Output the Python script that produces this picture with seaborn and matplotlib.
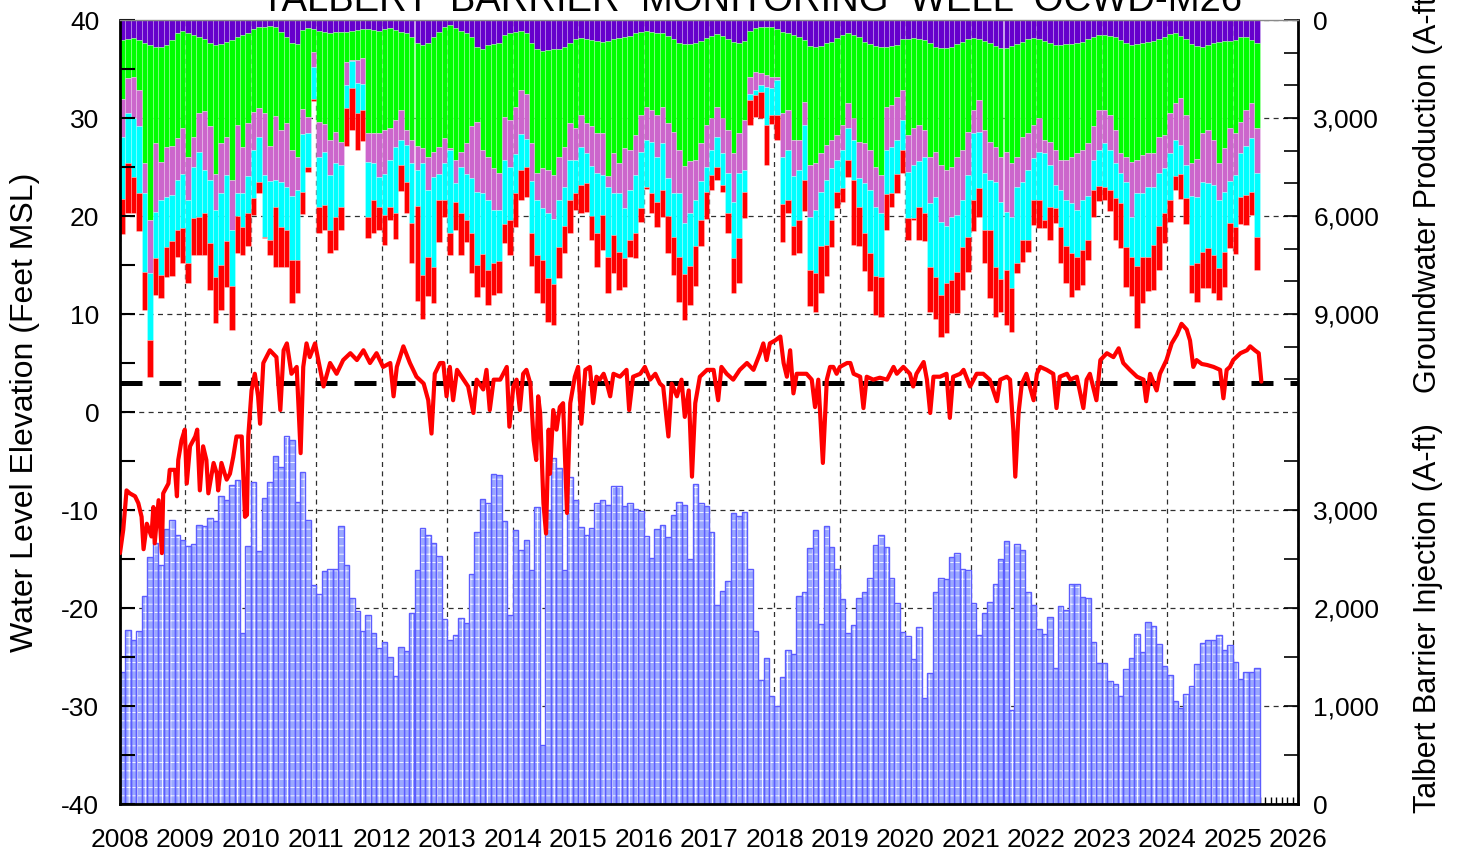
import numpy as np
import pandas as pd
import matplotlib
matplotlib.use("Agg")
import matplotlib.pyplot as plt
from matplotlib.ticker import FixedLocator, MultipleLocator, FuncFormatter
import seaborn as sns

sns.set_theme(style="white")
plt.rcParams['font.family'] = ['Liberation Sans', 'DejaVu Sans']
plt.rcParams['hatch.linewidth'] = 0.6
plt.rcParams['axes.unicode_minus'] = False
plt.rcParams['text.color'] = 'black'
plt.rcParams['xtick.color'] = 'black'
plt.rcParams['ytick.color'] = 'black'
plt.rcParams['xtick.labelcolor'] = 'black'
plt.rcParams['ytick.labelcolor'] = 'black'

# ---------------- data ----------------
months = pd.date_range("2008-01-01", periods=209, freq="MS")

# Groundwater production by zone (A-ft / month), stacked from top of chart
prod_purple = [610,590,560,610,710,770,820,820,770,610,410,330,
               410,460,510,590,690,770,730,660,610,530,460,410,
               290,220,200,180,220,360,510,710,730,310,260,290,
               330,360,390,380,370,360,330,310,290,290,310,330,
               290,260,310,360,390,510,710,770,690,510,360,200,
               150,260,330,410,510,820,900,770,730,690,460,410,
               360,330,410,710,900,940,920,900,880,820,690,590,
               560,590,610,630,660,630,590,560,530,490,410,360,
               330,360,390,410,490,590,690,740,730,690,630,560,
               490,430,490,590,670,690,630,330,260,200,200,220,
               290,360,410,450,530,610,800,840,800,710,660,560,
               460,410,460,530,660,730,800,820,820,800,770,590,
               570,560,570,610,710,820,870,870,840,730,660,590,
               560,590,630,690,800,870,850,800,730,660,590,560,
               590,630,690,770,770,730,730,710,660,590,510,470,
               460,490,530,610,710,770,730,690,660,630,590,510,
               430,410,490,590,730,800,820,770,690,660,650,630,
               610,510,530,610,690]
prod_green = [1820,1190,1170,1530,3670,5360,2960,3520,3110,3260,3210,2990,
              3770,3110,2350,2210,2570,3930,3040,2910,4280,2680,3420,2750,
              2520,2480,2650,3690,2730,3010,2650,3260,3450,2400,2700,680,
              2780,2810,3280,3040,3360,920,900,920,860,3180,3160,3140,
              3080,3060,2750,2400,2980,3160,3160,3160,3490,3520,3520,3420,
              3770,4030,3700,3370,2750,2300,3080,3420,3800,4000,2500,2650,
              2300,1820,1840,3060,3790,3600,3670,3850,3300,3060,2470,2720,
              2350,2570,2650,2840,2810,4160,3490,3830,3400,3490,3110,2550,
              2330,2400,2520,2240,2670,2830,3280,3740,3600,3590,3140,2650,
              2520,2220,2520,2770,3410,2770,2430,1410,1330,1430,1480,1510,
              1450,2500,2350,3220,3140,1890,3640,3550,3280,3110,3010,2960,
              2750,2140,2550,3190,3110,3240,3690,3930,1840,1810,1580,1550,
              2950,2750,2640,2750,3470,3210,3570,3720,3650,3450,3320,2830,
              2190,1860,2730,3030,3080,3320,3180,3590,3450,2910,2880,2650,
              2420,3040,3030,3210,3520,3550,3450,3370,3320,3180,2750,2280,
              2300,2420,2840,3470,3470,3570,3550,3440,3420,3450,2980,3010,
              2430,2140,1910,2320,3650,3440,2650,2600,2980,3720,3270,2680,
              2860,2600,2220,1940,2620]
prod_orchid = [1160,1070,1280,1120,920,1630,2090,1170,1530,1480,1280,1380,
               1330,920,1170,1790,1630,1120,1530,1170,1530,2090,1430,1630,
               1170,870,1890,1070,1940,1580,1940,1430,1020,770,510,460,
               1070,870,1070,970,710,710,20,710,800,870,920,1330,
               1330,970,820,920,460,710,710,460,1020,770,820,770,
               50,710,460,920,1580,2140,1330,1330,1280,1120,1330,1430,
               1430,1330,1380,1170,820,1220,1330,1330,1330,1220,1120,970,
               970,920,1220,1220,1280,310,1220,920,1840,1220,1220,1120,
               1020,970,1280,1120,1680,1890,1330,1730,1580,1220,1170,1280,
               970,920,1070,1330,1480,1220,1530,510,560,360,360,360,
               100,1330,1220,1120,920,710,1580,1430,1170,1070,870,770,
               770,770,660,1120,1220,1220,1220,1170,1330,1280,1330,920,
               1120,1120,1120,820,1430,1380,1730,1730,1530,1790,1530,1330,
               710,970,1330,1170,1070,1380,1840,1630,920,1380,1120,1020,
               1020,410,710,1070,920,1220,1430,1730,1530,1630,1020,1220,
               1020,1070,1020,610,770,1680,1020,1170,1020,1020,1120,1020,
               1220,1120,1430,1530,1020,1170,1480,1630,1380,1120,1330,1630,
               1280,970,1120,1070,1380]
prod_cyan = [1890,1530,1790,2040,2400,2040,1430,2300,1530,1430,1530,1680,
             1940,1580,1990,1330,1940,2040,2190,2040,1730,710,1020,1120,
             1480,1380,1890,1790,820,1380,1330,1940,2140,1790,1020,1000,
             1530,1630,1680,1630,1280,710,820,920,820,1680,1120,920,
             1280,1430,2040,770,1120,1840,1120,3420,2040,2750,820,1120,
             2550,560,1430,1430,1680,2240,1840,2140,1630,1580,1940,1630,
             1220,1120,870,1580,1680,1580,1990,1990,1430,1220,1220,1020,
             1170,920,1530,1840,1220,2140,1280,1790,1530,1530,1790,1730,
             1430,1580,1380,1430,1170,1330,1940,1580,1630,1430,1170,770,
             770,920,970,1220,1730,1990,660,200,150,200,1170,820,
             1070,1430,1530,1530,1530,1680,1630,1940,1680,1990,1580,970,
             1170,970,1220,870,1530,1940,2140,1940,1330,1410,1020,920,
             1430,1630,1380,1730,1940,2450,2240,1730,1940,1730,1430,1890,
             2040,1730,1730,1530,2600,2350,1790,2190,2350,1790,2140,1280,
             1480,2040,1280,710,1120,1430,1530,1430,1530,1330,920,1120,
             1330,1220,1070,920,1990,1220,2240,1940,2140,1790,1630,1380,
             1430,1120,870,1020,2090,2040,2140,1990,2140,2090,1840,1280,
             1580,1330,1480,1630,1940]
prod_red = [1080,1530,1120,1170,1170,1130,1120,710,920,1070,820,1070,
            610,1120,1170,1280,1430,1430,1380,1380,1330,1120,870,1020,
            510,360,50,460,1840,1220,1120,1330,1020,660,150,50,
            820,770,710,1020,710,1170,1310,1120,920,660,1020,710,
            920,410,770,770,970,1220,2910,1330,1220,1120,1280,510,
            660,870,1280,660,1220,970,1020,1070,970,970,610,1070,
            1020,920,920,1020,1170,1330,1330,1280,970,820,1020,510,
            870,870,710,1020,1070,1120,1170,1170,870,510,770,410,
            50,610,770,820,1120,1170,1380,1380,1170,1220,820,820,
            460,410,200,610,1070,1380,820,770,660,820,1220,260,
            770,1170,410,870,1020,970,1120,1170,1430,970,820,510,
            410,510,1990,1220,1170,1170,1170,1220,1120,430,610,710,
            660,50,1020,870,1380,1280,1280,1530,1020,1280,1330,1070,
            970,870,1020,2090,1530,1020,1680,1330,310,660,360,770,
            870,260,1020,460,1120,1120,1330,1020,1070,610,820,460,
            410,660,1280,1380,1220,1220,1890,1430,1070,1380,1330,920,
            660,410,770,770,870,1170,1120,1220,1170,970,1070,770,
            820,820,920,710,1020]

# Talbert Barrier injection (A-ft / month)
injection = [1350,1780,1670,1770,2120,2520,2660,2440,2810,2900,2750,2690,
             2630,2650,2850,2840,2920,2890,3140,3100,3260,3310,1750,2630,
             3290,2580,3120,3290,3550,3440,3760,3710,3080,3390,2900,2230,
             2140,2380,2400,2400,2840,2440,2100,1970,1770,1930,1740,1590,
             1650,1500,1310,1600,1560,1950,2390,2820,2740,2660,2530,1890,
             1670,1720,1900,1850,2350,2780,3110,3070,3370,3360,2890,1930,
             2800,2590,2690,2390,3030,600,3000,3530,3430,2390,3340,3100,
             2830,2740,2820,3070,3100,3050,3250,3250,3040,3070,3010,2990,
             2730,2510,2810,2850,2720,2950,3080,3050,2500,3270,3070,3040,
             2780,2030,2170,2280,2970,2940,2980,2400,1770,1270,1490,1100,
             1000,1300,1570,1530,2120,2160,2610,2800,1840,2840,2620,2400,
             2090,1740,1830,2100,2160,2310,2640,2740,2620,2310,2050,1760,
             1710,1480,1810,1080,1340,2160,2310,2300,2520,2560,2400,2390,
             2050,1720,1950,2060,2250,2500,2680,960,2650,2590,2160,2030,
             1790,1730,1910,1390,2020,1980,2240,2250,2110,2100,1650,1440,
             1440,1260,1220,1100,1380,1490,1730,1550,1860,1820,1630,1410,
             1320,1050,980,1120,1200,1430,1640,1670,1670,1720,1570,1620,
             1450,1280,1350,1350,1390]

# Water level at OCWD-M26 (decimal year, ft MSL)
wl_year = [2008.00,2008.05,2008.10,2008.15,2008.23,2008.28,2008.33,2008.36,2008.41,2008.48,
           2008.51,2008.53,2008.59,2008.64,2008.66,2008.74,2008.76,2008.84,2008.87,2008.89,
           2008.94,2008.99,2009.02,2009.07,2009.15,2009.18,2009.22,2009.27,2009.32,2009.35,
           2009.43,2009.48,2009.50,2009.55,2009.60,2009.63,2009.68,2009.73,2009.78,2009.86,
           2009.91,2009.94,2009.96,2010.01,2010.06,2010.11,2010.14,2010.19,2010.29,2010.39,
           2010.45,2010.50,2010.55,2010.62,2010.70,2010.76,2010.80,2010.85,2010.90,2010.98,
           2011.03,2011.11,2011.21,2011.31,2011.41,2011.52,2011.62,2011.72,2011.82,2011.92,
           2012.02,2012.13,2012.18,2012.23,2012.33,2012.43,2012.53,2012.64,2012.71,2012.76,
           2012.81,2012.89,2012.94,2012.99,2013.04,2013.09,2013.15,2013.25,2013.32,2013.40,
           2013.45,2013.55,2013.60,2013.65,2013.71,2013.81,2013.91,2013.95,2014.01,2014.06,
           2014.11,2014.16,2014.21,2014.27,2014.32,2014.36,2014.39,2014.42,2014.47,2014.51,
           2014.55,2014.57,2014.62,2014.67,2014.72,2014.77,2014.83,2014.88,2014.95,2015.00,
           2015.05,2015.11,2015.18,2015.23,2015.28,2015.33,2015.39,2015.44,2015.49,2015.54,
           2015.64,2015.74,2015.78,2015.84,2015.95,2016.02,2016.10,2016.18,2016.25,2016.30,
           2016.38,2016.43,2016.51,2016.58,2016.63,2016.69,2016.74,2016.79,2016.86,2016.97,
           2017.07,2017.14,2017.19,2017.27,2017.37,2017.47,2017.58,2017.68,2017.78,2017.83,
           2017.88,2017.93,2018.01,2018.09,2018.14,2018.19,2018.24,2018.29,2018.34,2018.42,
           2018.49,2018.57,2018.62,2018.67,2018.74,2018.80,2018.85,2018.90,2018.95,2019.00,
           2019.11,2019.16,2019.21,2019.31,2019.36,2019.41,2019.51,2019.61,2019.72,2019.82,
           2019.87,2019.97,2020.07,2020.12,2020.17,2020.28,2020.33,2020.38,2020.43,2020.53,
           2020.63,2020.68,2020.73,2020.84,2020.89,2020.99,2021.09,2021.19,2021.29,2021.40,
           2021.45,2021.55,2021.60,2021.65,2021.68,2021.73,2021.78,2021.85,2021.96,2022.01,
           2022.06,2022.16,2022.26,2022.31,2022.36,2022.47,2022.52,2022.62,2022.72,2022.77,
           2022.82,2022.92,2022.98,2023.08,2023.18,2023.26,2023.33,2023.43,2023.54,2023.64,
           2023.68,2023.74,2023.84,2023.89,2023.94,2023.99,2024.07,2024.15,2024.22,2024.30,
           2024.35,2024.40,2024.45,2024.53,2024.61,2024.71,2024.81,2024.86,2024.91,2024.96,
           2025.01,2025.12,2025.22,2025.27,2025.34,2025.40,2025.44]
wl_ft = [-14.4,-12.0,-8.0,-8.3,-8.6,-9.3,-10.7,-14.0,-11.4,-12.7,
         -9.7,-13.4,-9.0,-14.4,-8.3,-7.3,-5.9,-5.9,-8.6,-4.9,
         -2.9,-1.8,-7.3,-3.5,-2.5,-1.8,-8.0,-3.5,-4.9,-8.3,
         -5.2,-6.3,-8.0,-5.2,-6.3,-6.9,-6.3,-4.6,-2.5,-2.5,
         -10.7,-10.5,-2.5,2.2,3.9,1.6,-1.2,5.0,6.3,5.6,
         0.2,6.3,7.0,3.9,4.6,-4.2,4.6,7.0,5.6,7.0,
         5.3,2.6,5.0,3.9,5.3,6.0,5.3,6.3,5.0,6.0,
         4.6,5.0,1.6,4.6,6.7,5.0,3.6,2.9,1.2,-2.2,
         3.9,5.0,5.0,1.6,4.6,1.2,4.3,3.3,2.6,-0.1,
         3.3,2.3,4.3,0.2,3.3,3.3,4.6,-1.5,2.6,3.3,
         0.2,3.9,4.3,2.9,-2.9,-4.9,1.6,-0.1,-9.3,-12.4,
         -1.8,-6.3,0.2,-1.8,0.5,0.9,-10.3,0.9,3.6,4.6,
         -1.2,4.3,4.6,0.9,3.6,3.3,3.9,2.9,1.6,3.9,
         3.6,4.3,0.2,3.6,3.9,4.6,3.3,3.9,2.9,2.6,
         -2.5,2.9,1.6,3.3,-0.5,2.2,-6.6,0.9,3.6,4.3,
         4.3,1.2,4.6,3.9,3.3,4.3,5.0,4.3,6.0,7.0,
         5.3,7.0,7.3,7.7,5.0,3.6,6.3,1.9,3.9,3.9,
         3.9,3.3,0.5,3.3,-5.2,3.3,4.6,4.6,3.9,4.6,
         5.0,5.0,3.9,3.6,0.4,3.6,3.3,3.5,3.3,4.6,
         3.9,4.6,3.9,2.6,3.9,5.1,3.3,-0.1,3.6,3.6,
         3.9,-0.6,3.6,3.9,4.3,2.6,3.9,3.9,3.3,1.1,
         3.3,3.6,3.3,-1.8,-6.6,-0.1,2.9,3.9,1.2,3.9,
         4.6,4.3,3.9,0.4,3.6,3.9,3.3,3.6,0.4,3.3,
         3.9,1.2,5.3,6.0,5.6,6.5,5.0,4.3,3.6,3.3,
         1.1,3.9,2.2,3.9,4.6,5.3,7.0,7.9,9.0,8.4,
         7.3,4.6,5.3,4.9,4.8,4.6,4.3,1.4,4.3,4.6,
         5.3,6.0,6.3,6.7,6.3,6.0,3.1]

protective_level = 3.0   # ft MSL reference line

year_ticks = list(range(2008, 2027))
left_ticks = [-40, -30, -20, -10, 0, 10, 20, 30, 40]
prod_ticks = [0, 3000, 6000, 9000]
inj_ticks = [0, 1000, 2000, 3000]

# ---------------- derived ----------------
mx = months.year + (months.month - 0.5) / 12.0
width = 1 / 12.0
layers = [np.array(prod_purple), np.array(prod_green), np.array(prod_orchid),
          np.array(prod_cyan), np.array(prod_red)]
colors = ['#6600cc', '#00ff00', '#cc66cc', '#00ffff', '#ff0000']

W, H = 1461, 856
fig = plt.figure(figsize=(W / 100, H / 100), dpi=100)
rect = [120 / W, 1 - 804 / H, (1298 - 120) / W, (804 - 20) / H]
base = fig.add_axes(rect)
axI = base.twinx()
axP = base.twinx()
wl = base.twinx()

XMIN, XMAX = 2008, 2026
for a in (base, axI, axP, wl):
    a.set_xlim(XMIN, XMAX)
    for s in a.spines.values():
        s.set_visible(False)

# base: grid + x axis
base.set_ylim(-40, 40)
base.set_facecolor('white')
base.set_axisbelow(True)
base.xaxis.set_major_locator(FixedLocator(year_ticks))
base.xaxis.set_minor_locator(MultipleLocator(1 / 12.0))
base.yaxis.set_major_locator(MultipleLocator(10))
base.grid(True, which='major', color='#303030', linestyle=(0, (4, 3.5)), linewidth=0.9)
base.tick_params(axis='x', which='major', direction='in', length=8, width=1,
                 labelsize=19, pad=17, bottom=True, color='black', labelcolor='black')
base.tick_params(axis='x', which='minor', direction='in', length=5, width=1,
                 bottom=True, color='black')
base.tick_params(axis='y', left=False, right=False, labelleft=False, labelright=False)
base.xaxis.set_major_formatter(FuncFormatter(lambda v, p: f"{int(v)}"))

# injection bars (bottom-right axis)
axI.set_ylim(0, 8000)
axI.bar(mx, injection, width=width, color='#9aa8ff', edgecolor='white',
        hatch='++', linewidth=0, zorder=1)
axI.bar(mx, injection, width=width, fill=False, edgecolor='#5c5cff',
        linewidth=1.0, zorder=2)
axI.yaxis.set_major_locator(FixedLocator(inj_ticks))
axI.yaxis.set_minor_locator(FixedLocator([500, 1500, 2500, 3500]))
axI.yaxis.set_major_formatter(FuncFormatter(lambda v, p: f"{int(v):,}"))
axI.tick_params(axis='y', which='both', direction='in', length=10, width=1.2,
                right=True, left=False, labelright=True, labelsize=19, pad=11,
                color='black', labelcolor='black')

# production bars (top-right axis, inverted)
axP.set_ylim(24000, 0)
bottom = np.zeros(len(mx))
for vals, c in zip(layers, colors):
    axP.bar(mx, vals, bottom=bottom, width=width, color=c,
            edgecolor=(1, 1, 1, 0.35), linewidth=0.5)
    bottom = bottom + vals
axP.yaxis.set_major_locator(FixedLocator(prod_ticks))
axP.yaxis.set_minor_locator(FixedLocator([1000, 2000, 4000, 5000, 7000, 8000, 10000, 11000]))
axP.yaxis.set_major_formatter(FuncFormatter(lambda v, p: f"{int(v):,}"))
axP.tick_params(axis='y', which='both', direction='in', length=10, width=1.2,
                right=True, left=False, labelright=True, labelsize=19, pad=11,
                color='black', labelcolor='black')

# water level (top layer, left axis)
wl.set_ylim(-40, 40)
wl.yaxis.tick_left()
wl.yaxis.set_label_position('left')
wl.axhline(protective_level, color='black', linewidth=3.6, dashes=(4.4, 3.4), zorder=3)
df = pd.DataFrame({'year': wl_year, 'ft': wl_ft})
sns.lineplot(data=df, x='year', y='ft', ax=wl, color='#ff0000', linewidth=3,
             estimator=None, sort=False, zorder=4)
wl.set_xlabel('')
wl.set_ylabel('')
wl.set_xlim(XMIN, XMAX)
wl.yaxis.set_major_locator(FixedLocator(left_ticks))
wl.yaxis.set_minor_locator(MultipleLocator(5))
wl.tick_params(axis='y', which='both', direction='in', length=11, width=1.5,
               left=True, right=False, labelleft=True, labelright=False,
               labelsize=19, pad=15, color='black', labelcolor='black')
wl.tick_params(axis='x', which='both', bottom=False, labelbottom=False)
for side in ('left', 'bottom', 'right'):
    wl.spines[side].set_visible(True)
    wl.spines[side].set_color('black')
    wl.spines[side].set_linewidth(2)
wl.spines['top'].set_visible(True)
wl.spines['top'].set_color('#8a8a8a')
wl.spines['top'].set_linewidth(1)

# labels
fig.text(25 / W, 1 - 412 / H, 'Water Level Elevation (Feet MSL)', rotation=90,
         ha='center', va='center', fontsize=23, color='black')
fig.text(1428 / W, 1 - 190 / H, 'Groundwater Production (A-ft)', rotation=90,
         ha='center', va='center', fontsize=22, color='black')
fig.text(1428 / W, 1 - 618 / H, 'Talbert Barrier Injection (A-ft)', rotation=90,
         ha='center', va='center', fontsize=22, color='black')
fig.text(751 / W, 1 - 11 / H, 'TALBERT  BARRIER  MONITORING  WELL  OCWD-M26',
         ha='center', va='baseline', fontsize=27.5, color='black')

fig.savefig('out.png', dpi=100)
